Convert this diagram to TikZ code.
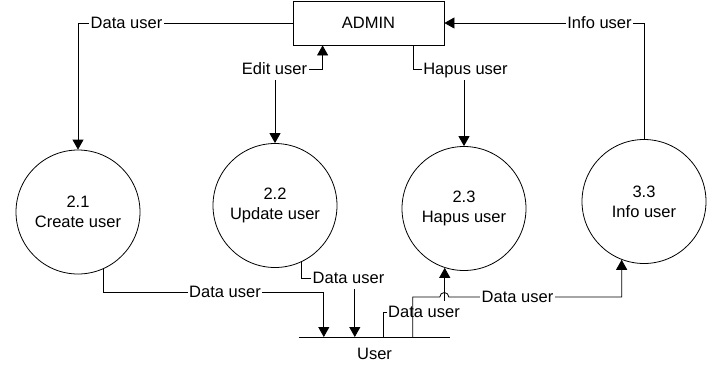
\documentclass[tikz,border=0pt]{standalone}
\usepackage{fontspec}
\setmainfont{Liberation Sans}
\usetikzlibrary{arrows.meta,calc}
\begin{document}
\begin{tikzpicture}[x=1pt,y=-1pt,
  every node/.style={font=\fontsize{16.5pt}{20pt}\selectfont},
  flow/.style={draw, line width=0.8pt},
  arr/.style={-{Triangle[length=10pt,width=11pt]}},
  arrs/.style={{Triangle[length=10pt,width=11pt]}-{Triangle[length=10pt,width=11pt]}},
  proc/.style={circle, draw, line width=0.8pt, minimum size=124pt, inner sep=0pt, align=center},
  lbl/.style={fill=white, inner xsep=1.5pt, inner ysep=5pt, text height=11.8pt, text depth=0pt}]
\useasboundingbox[fill=white] (0,0) rectangle (714,368);

\node[draw, line width=0.8pt, minimum width=151pt, minimum height=44pt, inner sep=0pt] (admin) at (368.5,23) {ADMIN};
\node[proc] (c21) at (78,212) {2.1\\Create user};
\node[proc] (c22) at (275,205.5) {2.2\\Update user};
\node[proc] (c23) at (464,208.5) {2.3\\Hapus user};
\node[proc] (c33) at (644,201.5) {3.3\\Info user};
\node[anchor=north, minimum width=151pt, inner xsep=0pt, inner ysep=10pt, text height=11.8pt, text depth=0pt] (store) at (374.5,337) {User};
\draw[flow] (store.north west) -- (store.north east);

% ADMIN -> 2.1
\draw[flow,arr] (admin.west) -| (c21.north);
\node[lbl] at (126.5,23) {Data user};
% Edit user
\draw[flow,arrs] (c22.north) |- ($(admin.south west)+(30,24)$) -- ($(admin.south west)+(30,0)$);
\node[lbl] at (274.5,69) {Edit user};
% Hapus user
\draw[flow,arr] ($(admin.south west)+(121,0)$) -- ++(0,24) -| (c23.north);
\node[lbl] at (465.5,69) {Hapus user};
% Info user
\draw[flow,arr] (c33.north) |- (admin.east);
\node[lbl] at (599.5,23) {Info user};
% 2.1 -> store
\draw[flow,arr] (c21.294) |- ($(store.north west)+(25,-45)$) -- ($(store.north west)+(25,0)$);
\node[lbl] at (225,292) {Data user};
% 2.2 -> store
\draw[flow,arr] (c22.295) |- ($(store.north west)+(56,-59)$) -- ($(store.north west)+(56,0)$);
\node[lbl] at (348.5,278) {Data user};
% store -> 2.3
\draw[flow,arr] ($(store.north west)+(85,0)$) -- ++(0,-25) -| (c23.252);
\node[lbl] at (424,312) {Data user};
% store -> 3.3 (with hop)
\draw[flow,arr] ($(store.north west)+(114,0)$) -- ++(0,-40) -- ++(27,0) arc[start angle=180,end angle=0,radius=4.5pt] -| (c33.249);
\node[lbl] at (517.5,297) {Data user};
\end{tikzpicture}
\end{document}
